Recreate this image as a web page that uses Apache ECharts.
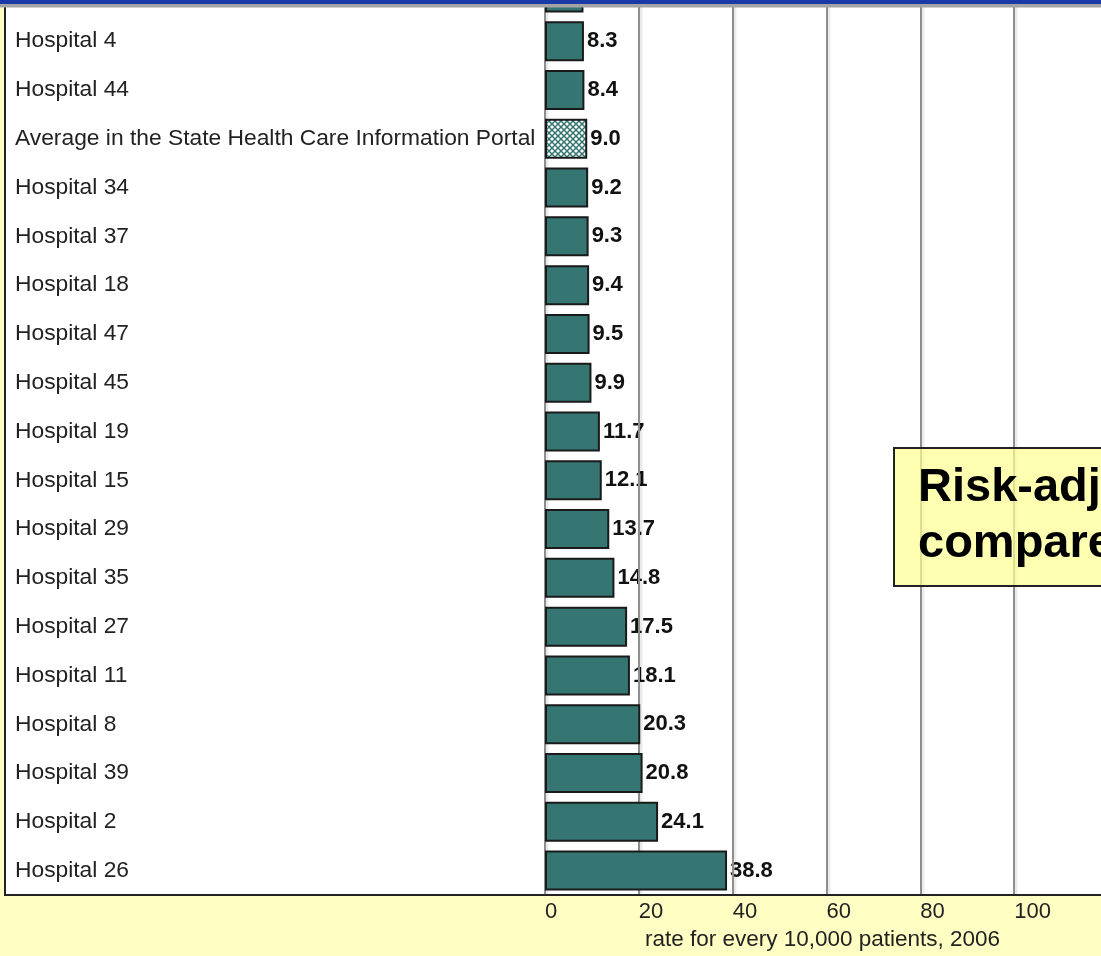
<!DOCTYPE html>
<html>
<head>
<meta charset="utf-8">
<script src="https://cdn.jsdelivr.net/npm/echarts@6/dist/echarts.min.js"></script>
<style>
html,body{margin:0;padding:0;background:#FFFFC4;overflow:hidden;}
#wrap{width:1101px;height:956px;overflow:hidden;position:relative;}
#chart{position:absolute;left:0;top:-32px;width:1130px;height:988px;}
</style>
</head>
<body>
<div id="wrap"><div id="chart"></div></div>
<script>
// Categories, top to bottom (first one is cut off at the top of the picture)
const categories = [
  "Hospital 31",
  "Hospital 4",
  "Hospital 44",
  "Average in the State Health Care Information Portal",
  "Hospital 34",
  "Hospital 37",
  "Hospital 18",
  "Hospital 47",
  "Hospital 45",
  "Hospital 19",
  "Hospital 15",
  "Hospital 29",
  "Hospital 35",
  "Hospital 27",
  "Hospital 11",
  "Hospital 8",
  "Hospital 39",
  "Hospital 2",
  "Hospital 26"
];
const rates = [8.2, 8.3, 8.4, 9.0, 9.2, 9.3, 9.4, 9.5, 9.9, 11.7, 12.1, 13.7, 14.8, 17.5, 18.1, 20.3, 20.8, 24.1, 38.8];
const averageName = "Average in the State Health Care Information Portal";
const xTicks = [0, 20, 40, 60, 80, 100, 120];
const axisTitle = "rate for every 10,000 patients, 2006";
const noteLines = ["Risk-adjusted rates", "compared to State average"];

const FONT = "'Liberation Sans', Arial, sans-serif";
const TEAL = "#357572";
const OFF = 32; // chart canvas starts 32px above the visible page

// cross-hatch pattern for the average bar
const pc = document.createElement('canvas');
pc.width = 6; pc.height = 6;
const pctx = pc.getContext('2d');
pctx.fillStyle = '#ffffff';
pctx.fillRect(0, 0, 6, 6);
pctx.strokeStyle = TEAL;
pctx.lineWidth = 1.5;
pctx.beginPath();
pctx.moveTo(0, 0); pctx.lineTo(6, 6);
pctx.moveTo(6, 0); pctx.lineTo(0, 6);
pctx.stroke();

const barData = categories.map((c, i) => {
  if (c === averageName) {
    return { value: rates[i], itemStyle: { color: { image: pc, repeat: 'repeat' } } };
  }
  return rates[i];
});

const chart = echarts.init(document.getElementById('chart'));
chart.setOption({
  backgroundColor: '#FFFFC4',
  animation: false,
  grid: { left: 545, top: 0, width: 563, height: 895 + OFF, containLabel: false },
  xAxis: {
    type: 'value',
    min: xTicks[0],
    max: xTicks[xTicks.length - 1],
    interval: 20,
    z: 2,
    axisLine: { show: true, lineStyle: { color: '#222', width: 2 } },
    axisTick: { show: false },
    splitLine: {
      show: true,
      lineStyle: { color: '#8e8e8e', width: 2, shadowColor: 'rgba(0,0,0,0.12)', shadowOffsetX: 2, shadowBlur: 2 }
    },
    axisLabel: {
      color: '#222', fontSize: 22, fontFamily: FONT, align: 'left', margin: 6,
      formatter: v => (xTicks.indexOf(v) >= 0 && v !== 120 ? String(v) : '')
    },
    name: axisTitle,
    nameLocation: 'middle',
    nameGap: 28,
    nameTextStyle: { color: '#222', fontSize: 22.5, fontFamily: FONT, padding: [0, 8, 0, 0] }
  },
  yAxis: {
    type: 'category',
    inverse: true,
    data: categories,
    z: 2,
    axisLine: { show: false },
    axisTick: { show: false },
    axisLabel: { color: '#222', fontSize: 22.8, fontFamily: FONT, align: 'left', margin: 530 }
  },
  series: [
    {
      // value labels (drawn below the grid lines)
      type: 'bar',
      data: rates,
      z: 1,
      silent: true,
      barCategoryGap: '18%',
      barGap: '-100%',
      itemStyle: { color: 'rgba(0,0,0,0)', borderWidth: 0 },
      label: {
        show: true, position: 'right', distance: 3,
        color: '#111', fontSize: 22, fontWeight: 'bold', fontFamily: FONT,
        formatter: p => Number(p.value).toFixed(1)
      }
    },
    {
      type: 'bar',
      data: barData,
      z: 3,
      barCategoryGap: '18%',
      barGap: '-100%',
      itemStyle: { color: TEAL, borderColor: '#1a1a1a', borderWidth: 2 },
      label: { show: false }
    }
  ],
  graphic: [
    { type: 'rect', z: -10, silent: true, shape: { x: 5, y: 6 + OFF, width: 1200, height: 889 },
      style: { fill: '#ffffff', stroke: '#222', lineWidth: 2 } },
    { type: 'rect', z: 100, silent: true, shape: { x: 0, y: 0, width: 1130, height: 4 + OFF },
      style: { fill: '#1a3aa8' } },
    { type: 'rect', z: 100, silent: true, shape: { x: 0, y: 4 + OFF, width: 1130, height: 3.5 },
      style: { fill: '#a4a4a4' } },
    { type: 'rect', z: 50, silent: true, shape: { x: 894, y: 448 + OFF, width: 400, height: 138 },
      style: { fill: 'rgba(255,255,148,0.72)', stroke: '#222', lineWidth: 2 } },
    { type: 'text', z: 51, silent: true, x: 918, y: 460 + OFF,
      style: { text: noteLines.join('\n'), font: 'bold 47px ' + FONT, fill: '#000',
               lineHeight: 56, verticalAlign: 'top', align: 'left' } }
  ]
});
</script>
</body>
</html>
